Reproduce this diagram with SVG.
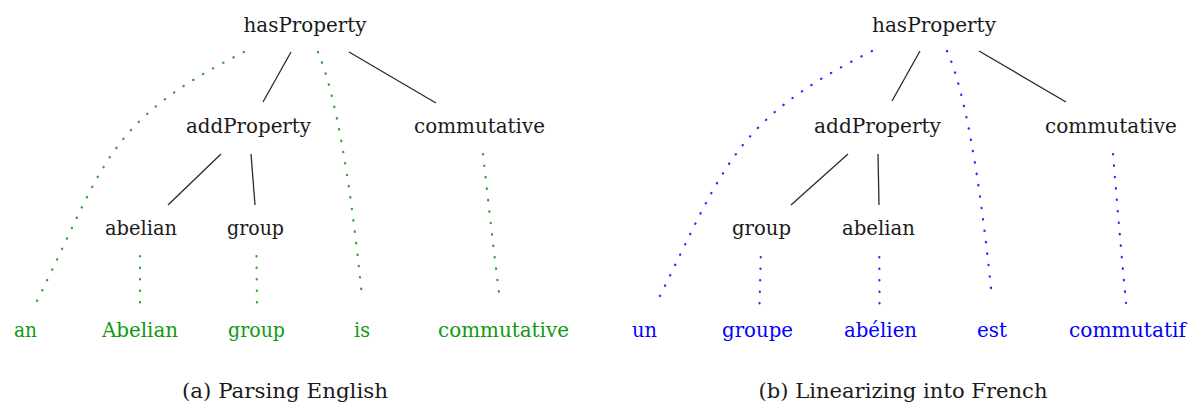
<svg xmlns="http://www.w3.org/2000/svg" width="1189" height="405" viewBox="0 0 1189 405">
<style>
text{font-family:"DejaVu Serif","Liberation Serif",serif;font-size:20px;text-anchor:middle}
.n{fill:#1a1a1a}
.g{fill:#109910}
.b{fill:#0000ff}
.t{stroke:#2a2a2a;stroke-width:1.3;fill:none}
.dg{stroke:#2aa52a;stroke-width:2.2;fill:none;stroke-linecap:round;stroke-dasharray:0.4 11.1}
.db{stroke:#2a2aff;stroke-width:2.2;fill:none;stroke-linecap:round;stroke-dasharray:0.4 11.1}
</style>
<rect width="1189" height="405" fill="#ffffff"/>
<g id="connectors">
<line class="t" x1="291" y1="52" x2="263" y2="102"/>
<line class="t" x1="349" y1="52" x2="436" y2="103"/>
<line class="t" x1="221" y1="154" x2="168" y2="205"/>
<line class="t" x1="251" y1="154" x2="255" y2="205"/>
<path class="dg" d="M244,52 C104,122 105,165 35,305"/>
<path class="dg" d="M318,52 Q344,115 362,297"/>
<path class="dg" d="M483,154 Q491,228 500,301"/>
<line class="dg" x1="140" y1="256" x2="140" y2="303"/>
<line class="dg" x1="256.5" y1="256" x2="257" y2="303"/>
<line class="t" x1="920" y1="51" x2="892" y2="101"/>
<line class="t" x1="979" y1="51" x2="1066" y2="102"/>
<line class="t" x1="848" y1="154" x2="791" y2="205"/>
<line class="t" x1="878" y1="154" x2="879" y2="205"/>
<path class="db" d="M872,51 C732,121 725,166 655,306"/>
<path class="db" d="M947,51 Q973,109 992,298"/>
<path class="db" d="M1113,154 Q1119,228 1126,303"/>
<line class="db" x1="760.7" y1="257" x2="759.5" y2="304"/>
<line class="db" x1="879.3" y1="257" x2="879.5" y2="304"/>
</g>
<g id="a-hasProperty"><text class="n" x="305" y="32" textLength="123" lengthAdjust="spacingAndGlyphs">hasProperty</text></g>
<g id="a-addProperty"><text class="n" x="248.5" y="133" textLength="125" lengthAdjust="spacingAndGlyphs">addProperty</text></g>
<g id="a-commutative"><text class="n" x="479.5" y="133" textLength="131" lengthAdjust="spacingAndGlyphs">commutative</text></g>
<g id="a-abelian"><text class="n" x="141" y="235" textLength="72" lengthAdjust="spacingAndGlyphs">abelian</text></g>
<g id="a-group"><text class="n" x="255.5" y="235" textLength="57" lengthAdjust="spacingAndGlyphs">group</text></g>
<g id="a-w-an"><text class="g" x="25.5" y="337" textLength="23" lengthAdjust="spacingAndGlyphs">an</text></g>
<g id="a-w-Abelian"><text class="g" x="140" y="337" textLength="76" lengthAdjust="spacingAndGlyphs">Abelian</text></g>
<g id="a-w-group"><text class="g" x="256.5" y="337" textLength="57" lengthAdjust="spacingAndGlyphs">group</text></g>
<g id="a-w-is"><text class="g" x="362" y="337" textLength="16" lengthAdjust="spacingAndGlyphs">is</text></g>
<g id="a-w-commutative"><text class="g" x="503.5" y="337" textLength="131" lengthAdjust="spacingAndGlyphs">commutative</text></g>
<g id="caption-a"><text class="n" x="285" y="398" textLength="206" lengthAdjust="spacingAndGlyphs">(a) Parsing English</text></g>
<g id="b-hasProperty"><text class="n" x="934" y="32" textLength="124" lengthAdjust="spacingAndGlyphs">hasProperty</text></g>
<g id="b-addProperty"><text class="n" x="877.5" y="133" textLength="127" lengthAdjust="spacingAndGlyphs">addProperty</text></g>
<g id="b-commutative"><text class="n" x="1111" y="133" textLength="132" lengthAdjust="spacingAndGlyphs">commutative</text></g>
<g id="b-group"><text class="n" x="761.5" y="235" textLength="59" lengthAdjust="spacingAndGlyphs">group</text></g>
<g id="b-abelian"><text class="n" x="878.5" y="235" textLength="73" lengthAdjust="spacingAndGlyphs">abelian</text></g>
<g id="b-w-un"><text class="b" x="644.5" y="337" textLength="25" lengthAdjust="spacingAndGlyphs">un</text></g>
<g id="b-w-groupe"><text class="b" x="757.5" y="337" textLength="71" lengthAdjust="spacingAndGlyphs">groupe</text></g>
<g id="b-w-abelien"><text class="b" x="880.5" y="337" textLength="73" lengthAdjust="spacingAndGlyphs">abélien</text></g>
<g id="b-w-est"><text class="b" x="992" y="337" textLength="30" lengthAdjust="spacingAndGlyphs">est</text></g>
<g id="b-w-commutatif"><text class="b" x="1127.5" y="337" textLength="117" lengthAdjust="spacingAndGlyphs">commutatif</text></g>
<g id="caption-b"><text class="n" x="903" y="398" textLength="289" lengthAdjust="spacingAndGlyphs">(b) Linearizing into French</text></g>
</svg>
